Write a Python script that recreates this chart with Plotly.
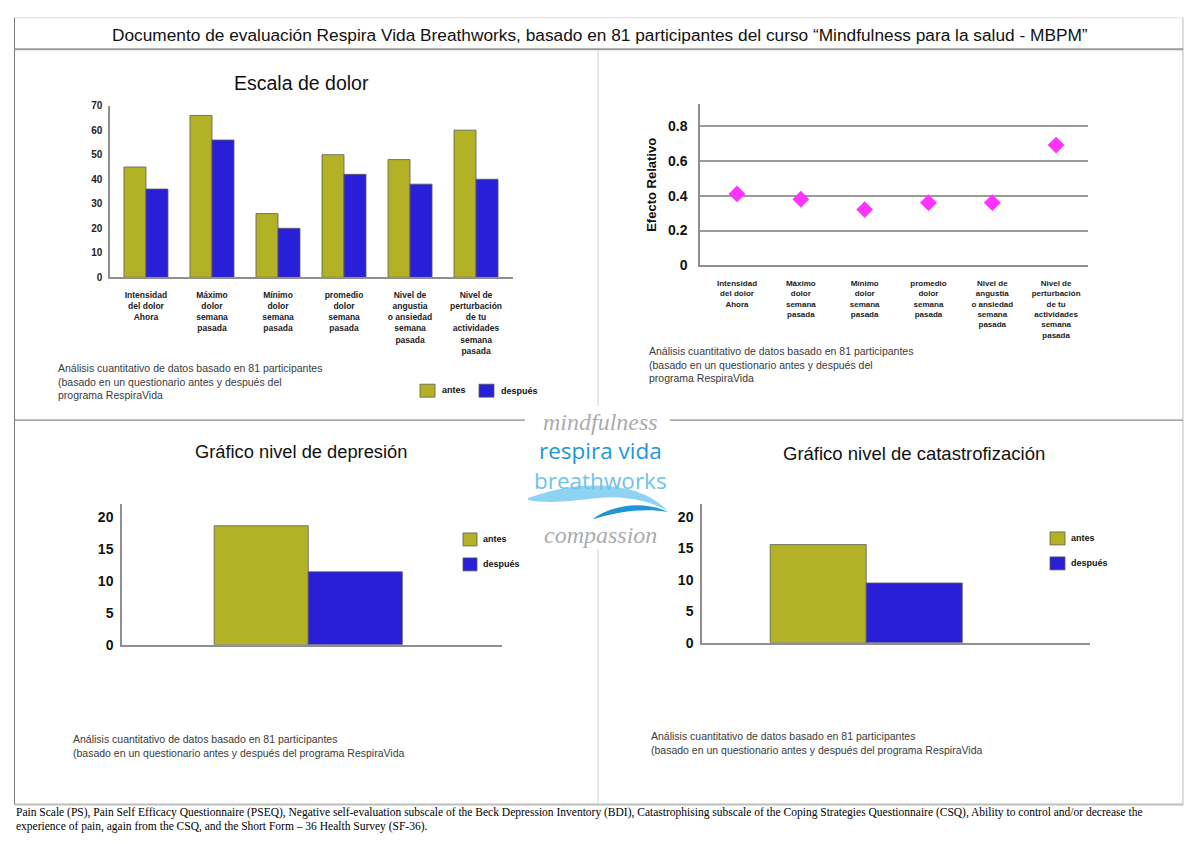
import plotly.graph_objects as go

W, H = 1200, 844
# the captured page shows a slight vertical squeeze; positions below are reference pixels
Y_OFF, Y_SCALE = 4.2, 0.985


def px(x):
    return x / W


def py(y):
    return 1 - ((y - Y_OFF) / Y_SCALE) / H


# ---------------- data ----------------
page_title = ("Documento de evaluación Respira Vida Breathworks, basado en 81 participantes "
              "del curso “Mindfulness para la salud - MBPM”")

pain_categories = [
    "Intensidad<br>del dolor<br>Ahora",
    "Máximo<br>dolor<br>semana<br>pasada",
    "Mínimo<br>dolor<br>semana<br>pasada",
    "promedio<br>dolor<br>semana<br>pasada",
    "Nivel de<br>angustia<br>o ansiedad<br>semana<br>pasada",
    "Nivel de<br>perturbación<br>de tu<br>actividades<br>semana<br>pasada",
]
pain_antes = [45, 66, 26, 50, 48, 60]
pain_despues = [36, 56, 20, 42, 38, 40]

effect_relativo = [0.41, 0.38, 0.32, 0.36, 0.36, 0.69]

depresion_antes = [18.6]
depresion_despues = [11.4]

catastro_antes = [15.6]
catastro_despues = [9.5]

series_names = ["antes", "después"]

titles = ["Escala de dolor", "Gráfico nivel de depresión", "Gráfico nivel de catastrofización"]
note_3 = ("Análisis cuantitativo de datos basado en 81 participantes<br>"
          "(basado en un questionario antes y después del<br>programa RespiraVida")
note_2 = ("Análisis cuantitativo de datos basado en 81 participantes<br>"
          "(basado en un questionario antes y después del programa RespiraVida")
footer_1 = ("Pain Scale (PS), Pain Self Efficacy Questionnaire (PSEQ), Negative self-evaluation subscale of the "
            "Beck Depression Inventory (BDI), Catastrophising subscale of the Coping Strategies Questionnaire (CSQ), "
            "Ability to control and/or decrease the")
footer_2 = "experience of pain, again from the CSQ, and the Short Form – 36 Health Survey (SF-36)."

# ---------------- styles ----------------
OLIVE = "#b3b227"
BLUE = "#2a1fd8"
MAGENTA = "#ff33ff"
AXIS = "#8f8f8f"
BAR_LINE = dict(color="#5a5a5a", width=0.8)
FONT = "Liberation Sans"

fig = go.Figure()

# Top-left: Escala de dolor
fig.add_trace(go.Bar(x=pain_categories, y=pain_antes, name=series_names[0], marker=dict(color=OLIVE, line=BAR_LINE),
                     xaxis="x", yaxis="y", showlegend=False))
fig.add_trace(go.Bar(x=pain_categories, y=pain_despues, name=series_names[1], marker=dict(color=BLUE, line=BAR_LINE),
                     xaxis="x", yaxis="y", showlegend=False))

# Top-right: Efecto relativo
fig.add_trace(go.Scatter(x=pain_categories, y=effect_relativo, mode="markers",
                         marker=dict(symbol="diamond", size=13, color=MAGENTA),
                         xaxis="x2", yaxis="y2", showlegend=False))

# Bottom-left: depresión
fig.add_trace(go.Bar(x=[0], y=depresion_antes, width=[1], offset=-1, marker=dict(color=OLIVE, line=BAR_LINE),
                     xaxis="x3", yaxis="y3", showlegend=False))
fig.add_trace(go.Bar(x=[0], y=depresion_despues, width=[1], offset=0, marker=dict(color=BLUE, line=BAR_LINE),
                     xaxis="x3", yaxis="y3", showlegend=False))

# Bottom-right: catastrofización
fig.add_trace(go.Bar(x=[0], y=catastro_antes, width=[1], offset=-1, marker=dict(color=OLIVE, line=BAR_LINE),
                     xaxis="x4", yaxis="y4", showlegend=False))
fig.add_trace(go.Bar(x=[0], y=catastro_despues, width=[1], offset=0, marker=dict(color=BLUE, line=BAR_LINE),
                     xaxis="x4", yaxis="y4", showlegend=False))

common_axis = dict(showline=True, linecolor=AXIS, linewidth=1.5, ticks="", zeroline=False, fixedrange=True)

layout = dict(
    width=W, height=H, margin=dict(l=0, r=0, t=0, b=0),
    paper_bgcolor="white", plot_bgcolor="white",
    font=dict(family=FONT, color="#111"),
    barmode="group", bargap=0.333, bargroupgap=0,
    showlegend=False,
    xaxis=dict(domain=[px(110), px(513)], anchor="y", type="category", range=[-0.545, 5.56],
               tickfont=dict(size=8.5, weight="bold", color="#222"), ticklabelstandoff=9, showgrid=False,
               **common_axis),
    yaxis=dict(domain=[py(276), py(104)], anchor="x", range=[0, 70], dtick=10,
               tickfont=dict(size=10, weight="bold", color="#222"), showgrid=False, ticklabelstandoff=4,
               **common_axis),
    xaxis2=dict(domain=[px(700), px(1088)], anchor="y2", type="category", range=[-0.58, 5.5],
                tickfont=dict(size=8, weight="bold", color="#222"), ticklabelstandoff=9, showgrid=False,
                **common_axis),
    yaxis2=dict(domain=[py(264), py(102.7)], anchor="x2", range=[0, 0.924], tickvals=[0, 0.2, 0.4, 0.6, 0.8],
                ticktext=["0", "0.2", "0.4", "0.6", "0.8"],
                tickfont=dict(size=14, weight="bold", color="#111"), showgrid=True, gridcolor="#9a9a9a",
                gridwidth=1.5, ticklabelstandoff=8,
                title=dict(text="Efecto Relativo", font=dict(size=13, weight="bold", color="#111"), standoff=8),
                **common_axis),
    xaxis3=dict(domain=[px(122), px(502)], anchor="y3", range=[-1.98, 2.06], showticklabels=False,
                showgrid=False, **common_axis),
    yaxis3=dict(domain=[py(644), py(503)], anchor="x3", range=[0, 22], dtick=5,
                tickfont=dict(size=14, weight="bold", color="#111"), showgrid=False, ticklabelstandoff=4,
                **common_axis),
    xaxis4=dict(domain=[px(702), px(1090)], anchor="y4", range=[-1.71, 2.33], showticklabels=False,
                showgrid=False, **common_axis),
    yaxis4=dict(domain=[py(642), py(502.7)], anchor="x4", range=[0, 22.1], dtick=5,
                tickfont=dict(size=14, weight="bold", color="#111"), showgrid=False, ticklabelstandoff=4,
                **common_axis),
)
fig.update_layout(**layout)

annotations = []


def text(x, y, s, size, color="#111", xanchor="center", family=FONT, bold=False, italic=False, yanchor="middle"):
    annotations.append(dict(
        x=px(x), y=py(y), xref="paper", yref="paper", text=s, showarrow=False,
        xanchor=xanchor, yanchor=yanchor, align="left" if xanchor == "left" else "center",
        font=dict(size=size, color=color, family=family, weight="bold" if bold else "normal",
                  style="italic" if italic else "normal")))


# headings
text(600, 33, page_title, 17.3)
text(301, 81, titles[0], 19.5)
text(301, 450, titles[1], 18.3)
text(914, 452, titles[2], 18.5)

# notes
NOTE_C = "#3a3a3a"
text(56, 380, note_3, 10.5, color=NOTE_C, xanchor="left")
text(647, 363, note_3, 10.5, color=NOTE_C, xanchor="left")
text(71, 745, note_2, 10.5, color=NOTE_C, xanchor="left")
text(649, 742, note_2, 10.5, color=NOTE_C, xanchor="left")

# footer
text(14, 812, footer_1, 11.5, color="#000", xanchor="left", family="Liberation Serif")
text(14, 826, footer_2, 11.5, color="#000", xanchor="left", family="Liberation Serif")

# logo
text(600, 421, "mindfulness", 24, color="#acacac", family="Liberation Serif", italic=True)
text(600, 449, "respira vida", 22.5, color="#1f97d4", family="Open Sans")
text(600, 479, "breathworks", 22.5, color="#6ec3ea", family="Open Sans")
text(600, 534, "compassion", 24, color="#acacac", family="Liberation Serif", italic=True)

shapes = []


def line(x0, y0, x1, y1, color="#c8c8c8", width=1):
    shapes.append(dict(type="line", xref="paper", yref="paper", x0=px(x0), y0=py(y0), x1=px(x1), y1=py(y1),
                       line=dict(color=color, width=width), layer="below"))


def rect(x0, y0, x1, y1, color):
    shapes.append(dict(type="rect", xref="paper", yref="paper", x0=px(x0), y0=py(y0), x1=px(x1), y1=py(y1),
                       fillcolor=color, line=dict(color="#5a5a5a", width=0.8)))


def path(points_cmd, color):
    shapes.append(dict(type="path", xref="paper", yref="paper", path=points_cmd, fillcolor=color,
                       line=dict(width=0)))


def P(x, y):
    return f"{px(x):.5f},{py(y):.5f}"


# page frame
line(14.5, 16, 1183, 16, "#dedede", 1)
line(14.5, 16, 14.5, 804, "#7a7a7a", 1)
line(1183, 16, 1183, 804, "#d0d0d0", 1.5)
line(14.5, 804, 1183, 804, "#bdbdbd", 2)
line(14.5, 47.5, 1183, 47.5, "#9a9a9a", 2)
line(598, 48, 598, 405, "#d0d0d0", 1)
line(598, 548, 598, 804, "#d0d0d0", 1)
line(14.5, 419, 525, 419, "#8a8a8a", 1.2)
line(670, 419, 1183, 419, "#8a8a8a", 1.2)

# legends
rect(420, 383, 435, 396, OLIVE)
text(440, 389, series_names[0], 9, bold=True, xanchor="left")
rect(479, 383, 494, 396, BLUE)
text(499, 390, series_names[1], 9, bold=True, xanchor="left")

rect(463, 532, 477, 545, OLIVE)
text(481, 538, series_names[0], 9, bold=True, xanchor="left")
rect(463, 557, 477, 570, BLUE)
text(481, 563, series_names[1], 9, bold=True, xanchor="left")

rect(1050, 531, 1065, 544, OLIVE)
text(1069, 537, series_names[0], 9, bold=True, xanchor="left")
rect(1050, 556, 1065, 569, BLUE)
text(1069, 562, series_names[1], 9, bold=True, xanchor="left")

# logo waves
path("M " + P(528, 497) + " C " + P(565, 484) + " " + P(600, 480) + " " + P(635, 490)
     + " C " + P(650, 495) + " " + P(660, 502) + " " + P(668, 510)
     + " C " + P(650, 500) + " " + P(625, 494) + " " + P(598, 497)
     + " C " + P(570, 500) + " " + P(550, 503) + " " + P(528, 499) + " Z", "#8fd3f2")
path("M " + P(594, 517) + " C " + P(615, 503) + " " + P(645, 500) + " " + P(668, 511)
     + " C " + P(645, 507) + " " + P(620, 510) + " " + P(594, 518) + " Z", "#1f97d4")

fig.update_layout(annotations=annotations, shapes=shapes)

fig.write_html("out.html", config=dict(displayModeBar=False),
               post_script="document.body.style.margin='0';")
